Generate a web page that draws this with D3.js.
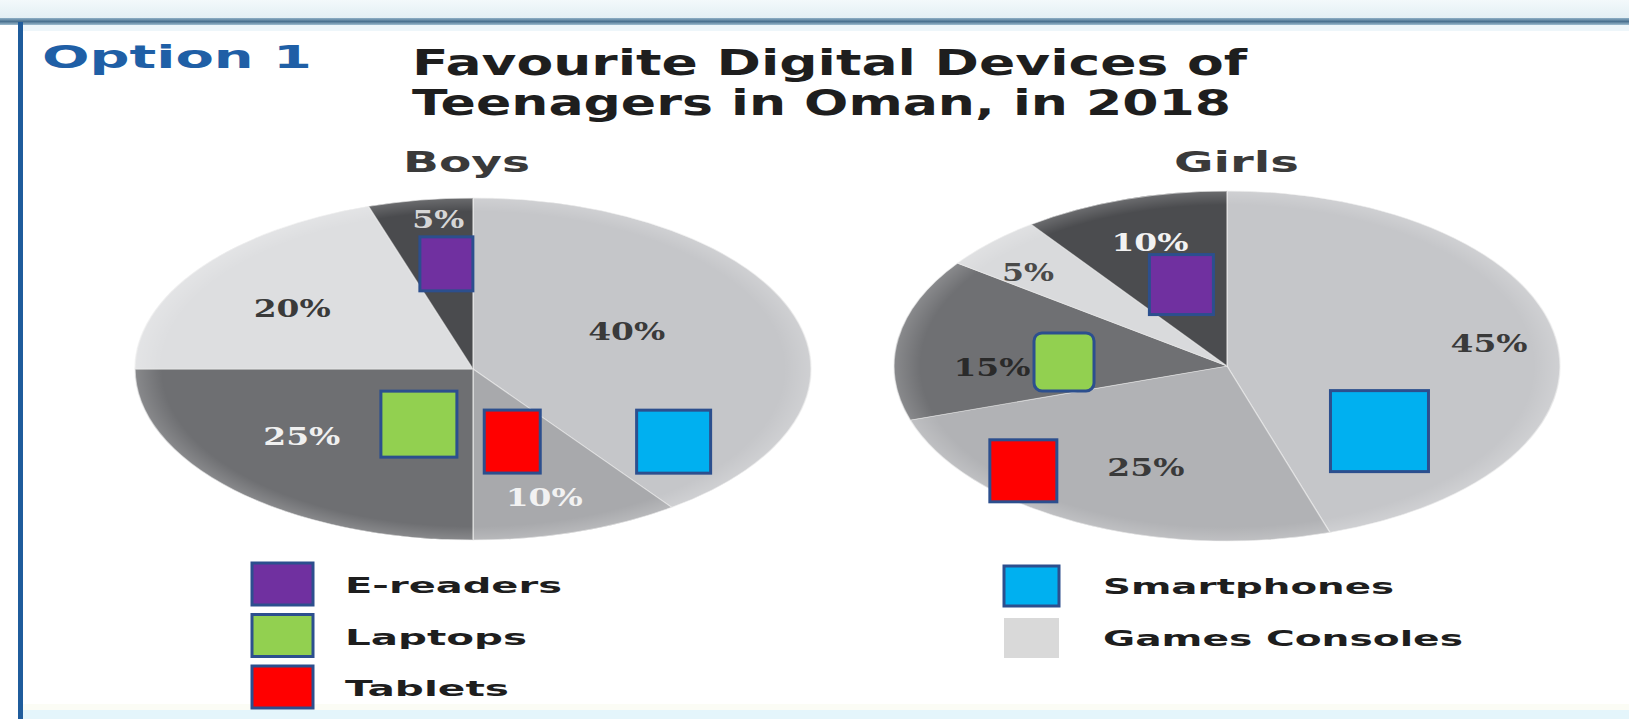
<!DOCTYPE html>
<html>
<head>
<meta charset="utf-8">
<script src="https://cdn.jsdelivr.net/npm/d3@7"></script>
<style>
  html, body { margin: 0; padding: 0; background: #ffffff; }
  svg { display: block; }
</style>
</head>
<body>
<svg id="chart" width="1629" height="719"></svg>
<script>
// ---------------- DATA ----------------
const categories = ["Smartphones", "Tablets", "Laptops", "Games Consoles", "E-readers"];
const boysValues  = [40, 10, 25, 20, 5];
const girlsValues = [45, 25, 15, 5, 10];
const pieTitles = ["Boys", "Girls"];
const optionLabel = "Option 1";
const titleLines = ["Favourite Digital Devices of", "Teenagers in Oman, in 2018"];
const legendLeft  = ["E-readers", "Laptops", "Tablets"];
const legendRight = ["Smartphones", "Games Consoles"];

// ---------------- STYLE / LAYOUT ----------------
const keyColor = {
  "Smartphones": "#00b0f0",
  "Tablets": "#ff0000",
  "Laptops": "#92d050",
  "Games Consoles": "#d9d9d9",
  "E-readers": "#7030a0"
};
const boysShades  = ["#c5c6c9", "#a8a9ac", "#6e6f72", "#dddee0", "#4a4b4e"];
const girlsShades = ["#c5c6c9", "#b1b2b5", "#6f7073", "#d9dadc", "#4b4c4f"];
const boysLabelColor  = ["#3a3a3a", "#f2f2f2", "#f0f0f0", "#3a3a3a", "#d6d6d6"];
const girlsLabelColor = ["#3a3a3a", "#3a3a3a", "#2a2a2a", "#4a4a4a", "#f2f2f2"];
// label placement: [angle in degrees, radius fraction]
const boysLabelPos  = [[64, 0.506], [164.3, 0.778], [232.3, 0.64], [303.7, 0.643], [353.3, 0.882]];
const girlsLabelPos = [[80.5, 0.798], [202.9, 0.626], [269.5, 0.706], [311.9, 0.803], [341.9, 0.745]];
// key squares inside pies: angle (deg), radius fraction, width, height
const boysKeys = [
  {cat: "E-readers",   a: 352.7, r: 0.62, w: 53, h: 54},
  {cat: "Laptops",     a: 206.4, r: 0.36, w: 76, h: 66},
  {cat: "Tablets",     a: 164.7, r: 0.44, w: 56, h: 63},
  {cat: "Smartphones", a: 125.6, r: 0.73, w: 74, h: 63}
];
const girlsKeys = [
  {cat: "E-readers",   a: 343.6, r: 0.485, w: 64, h: 60},
  {cat: "Laptops",     a: 272.7, r: 0.49, w: 60, h: 58, round: 8},
  {cat: "Tablets",     a: 225.6, r: 0.856, w: 67, h: 62},
  {cat: "Smartphones", a: 129.1, r: 0.59, w: 98, h: 81}
];

const W = 1629, H = 719;
const svg = d3.select("#chart");

// ---------------- FRAME ----------------
const defs = svg.append("defs");
const tg = defs.append("linearGradient").attr("id", "topband").attr("x1", 0).attr("x2", 0).attr("y1", 0).attr("y2", 1);
tg.append("stop").attr("offset", "0%").attr("stop-color", "#f3f9fb");
tg.append("stop").attr("offset", "100%").attr("stop-color", "#e3eff4");
const lg = defs.append("linearGradient").attr("id", "topline").attr("x1", 0).attr("x2", 0).attr("y1", 0).attr("y2", 1);
lg.append("stop").attr("offset", "0%").attr("stop-color", "#8fb0c6");
lg.append("stop").attr("offset", "50%").attr("stop-color", "#4b7290");
lg.append("stop").attr("offset", "100%").attr("stop-color", "#9fbdd0");
const shade = defs.append("radialGradient").attr("id", "rim").attr("cx", "50%").attr("cy", "50%").attr("r", "50%");
shade.append("stop").attr("offset", "92%").attr("stop-color", "#ffffff").attr("stop-opacity", 0);
shade.append("stop").attr("offset", "100%").attr("stop-color", "#ffffff").attr("stop-opacity", 0.18);

svg.append("rect").attr("x", 0).attr("y", 0).attr("width", W).attr("height", H).attr("fill", "#ffffff");
svg.append("rect").attr("x", 0).attr("y", 0).attr("width", W).attr("height", 18).attr("fill", "url(#topband)");
svg.append("rect").attr("x", 0).attr("y", 18).attr("width", W).attr("height", 7).attr("fill", "url(#topline)");
svg.append("rect").attr("x", 0).attr("y", 25).attr("width", W).attr("height", 6).attr("fill", "#eef6fa");
svg.append("rect").attr("x", 0).attr("y", 710).attr("width", W).attr("height", 9).attr("fill", "#e4f5fb");
svg.append("rect").attr("x", 0).attr("y", 704).attr("width", W).attr("height", 6).attr("fill", "#fbfcf5");
svg.append("rect").attr("x", 0).attr("y", 25).attr("width", 18).attr("height", H - 25).attr("fill", "#ffffff");
svg.append("rect").attr("x", 18).attr("y", 22).attr("width", 5).attr("height", H - 22).attr("fill", "#1f5c9c");

// ---------------- TITLES ----------------
svg.append("text").text(optionLabel)
  .attr("x", 42).attr("y", 68)
  .attr("font-family", "DejaVu Sans").attr("font-weight", "bold").attr("font-size", 32)
  .attr("fill", "#1f5fa6")
  .attr("textLength", 270).attr("lengthAdjust", "spacingAndGlyphs");

const titleWidths = [835, 819];
titleLines.forEach((t, i) => {
  svg.append("text").text(t)
    .attr("x", 412).attr("y", 75 + i * 40)
    .attr("font-family", "DejaVu Sans").attr("font-weight", "bold").attr("font-size", 36)
    .attr("fill", "#1e1e1e")
    .attr("textLength", titleWidths[i]).attr("lengthAdjust", "spacingAndGlyphs");
});

// ---------------- PIES ----------------
const pie = d3.pie().sort(null).value(d => d);
const pies = [
  {values: boysValues,  cx: 473,  cy: 369, rx: 338, ry: 171, shades: boysShades,  lc: boysLabelColor,  lp: boysLabelPos,  keys: boysKeys,
   title: pieTitles[0], tx: 403, tw: 127},
  {values: girlsValues, cx: 1227, cy: 366, rx: 333, ry: 175, shades: girlsShades, lc: girlsLabelColor, lp: girlsLabelPos, keys: girlsKeys,
   title: pieTitles[1], tx: 1174, tw: 125}
];

pies.forEach(p => {
  const k = p.ry / p.rx;
  const arc = d3.arc().innerRadius(0).outerRadius(p.rx);
  const g = svg.append("g").attr("transform", `translate(${p.cx},${p.cy}) scale(1,${k})`);
  const arcs = pie(p.values);
  g.selectAll("path.slice").data(arcs).join("path")
    .attr("class", "slice")
    .attr("d", arc)
    .attr("fill", (d, i) => p.shades[i])
    .attr("stroke", "#ececec").attr("stroke-width", 1.5).attr("stroke-opacity", 0.6);
  g.append("circle").attr("r", p.rx).attr("fill", "url(#rim)");

  // percentage labels
  arcs.forEach((d, i) => {
    const a = p.lp[i][0] * Math.PI / 180;
    const r = p.lp[i][1] * p.rx;
    const x = p.cx + Math.sin(a) * r;
    const y = p.cy - Math.cos(a) * r * k;
    const label = d.value + "%";
    const tl = label.length * 25 + 2;
    svg.append("text").text(label)
      .attr("x", x - tl / 2).attr("y", y + 9)
      .attr("font-family", "DejaVu Serif").attr("font-weight", "bold").attr("font-size", 25)
      .attr("textLength", tl).attr("lengthAdjust", "spacingAndGlyphs")
      .attr("fill", p.lc[i]);
  });

  // key squares
  p.keys.forEach(s => {
    const a = s.a * Math.PI / 180;
    const r = s.r * p.rx;
    const x = p.cx + Math.sin(a) * r;
    const y = p.cy - Math.cos(a) * r * k;
    svg.append("rect")
      .attr("x", x - s.w / 2).attr("y", y - s.h / 2)
      .attr("width", s.w).attr("height", s.h)
      .attr("rx", s.round || 0)
      .attr("fill", keyColor[s.cat])
      .attr("stroke", "#2c4f8e").attr("stroke-width", 3);
  });

  // pie title
  svg.append("text").text(p.title)
    .attr("x", p.tx).attr("y", 172)
    .attr("font-family", "DejaVu Sans").attr("font-weight", "bold").attr("font-size", 29)
    .attr("fill", "#3a3a3a")
    .attr("textLength", p.tw).attr("lengthAdjust", "spacingAndGlyphs");
});

// ---------------- LEGENDS ----------------
const leftWidths = [217, 182, 164];
legendLeft.forEach((name, i) => {
  const y0 = 563 + i * 51.5;
  svg.append("rect").attr("x", 252).attr("y", y0).attr("width", 61).attr("height", 42)
    .attr("fill", keyColor[name]).attr("stroke", "#2c4f8e").attr("stroke-width", 3);
  svg.append("text").text(name)
    .attr("x", 345).attr("y", y0 + 30)
    .attr("font-family", "DejaVu Sans").attr("font-weight", "bold").attr("font-size", 22)
    .attr("fill", "#1e1e1e")
    .attr("textLength", leftWidths[i]).attr("lengthAdjust", "spacingAndGlyphs");
});
const rightWidths = [291, 360];
legendRight.forEach((name, i) => {
  const y0 = 566 + i * 52;
  const isGray = name === "Games Consoles";
  svg.append("rect").attr("x", 1004).attr("y", y0).attr("width", 55).attr("height", 40)
    .attr("fill", keyColor[name])
    .attr("stroke", isGray ? "none" : "#2c4f8e").attr("stroke-width", 3);
  svg.append("text").text(name)
    .attr("x", 1103).attr("y", y0 + 28)
    .attr("font-family", "DejaVu Sans").attr("font-weight", "bold").attr("font-size", 22)
    .attr("fill", "#1e1e1e")
    .attr("textLength", rightWidths[i]).attr("lengthAdjust", "spacingAndGlyphs");
});
</script>
</body>
</html>
